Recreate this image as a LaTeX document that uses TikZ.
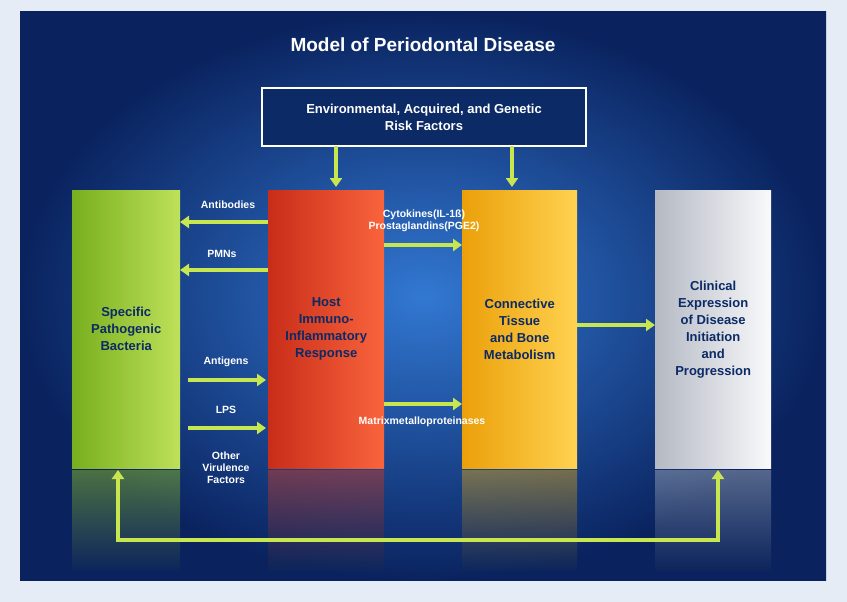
\documentclass[tikz,border=0pt]{standalone}
\usepackage{fontspec}
\setmainfont{Liberation Sans}
\usetikzlibrary{arrows.meta,shadings}
\definecolor{arr}{HTML}{C8E650}
\definecolor{navy}{HTML}{0B2A66}
\begin{document}
\begin{tikzpicture}[x=1pt,y=-1pt,
  conn/.style={draw=arr,line width=3.8pt,-{Triangle[length=9pt,width=12pt]}},
  lbl/.style={text=white,font=\bfseries\fontsize{10.5}{12}\selectfont,align=center,inner sep=0pt},
  big/.style={font=\bfseries\fontsize{13}{17}\selectfont,align=center,inner sep=0pt},
  box/.style={minimum width=116pt,minimum height=278pt,inner sep=0pt,anchor=north west}]
\useasboundingbox (0,0) rectangle (847,602);
\fill[fill={rgb,255:red,230;green,236;blue,245}] (0,0) rectangle (847,602);
\shade[inner color={rgb,255:red,50;green,120;blue,210},outer color={rgb,255:red,10;green,35;blue,95}] (20,12) rectangle (826,580);
\node[text=white,font=\bfseries\fontsize{19}{22}\selectfont] (title) at (423,45) {Model of Periodontal Disease};
\node[draw=white,line width=1.2pt,fill=navy,minimum width=324pt,minimum height=58pt,text=white,big] (risk) at (424,117) {Environmental, Acquired, and Genetic\\Risk Factors};
% reflections
\foreach \x/\w/\c in {72/108/{rgb,255:red,140;green,190;blue,40},268/116/{rgb,255:red,200;green,60;blue,40},462/115/{rgb,255:red,210;green,160;blue,30},655/116/{rgb,255:red,160;green,170;blue,185}}
  \shade[top color=\c,bottom color={rgb,255:red,15;green,40;blue,90},opacity=0.5] (\x,470) rectangle (\x+\w,570);
\node[box,left color={rgb,255:red,120;green,175;blue,30},right color={rgb,255:red,190;green,225;blue,90},text=navy,big,minimum width=108pt] (bact) at (72,190) {Specific\\Pathogenic\\Bacteria};
\node[box,left color={rgb,255:red,200;green,45;blue,25},right color={rgb,255:red,250;green,100;blue,60},text=navy,big] (host) at (268,190) {Host\\Immuno-\\Inflammatory\\Response};
\node[box,left color={rgb,255:red,235;green,160;blue,10},right color={rgb,255:red,255;green,210;blue,80},text=navy,big,minimum width=115pt] (ctb) at (462,190) {Connective\\Tissue\\and Bone\\Metabolism};
\node[box,left color={rgb,255:red,180;green,185;blue,195},right color={rgb,255:red,250;green,250;blue,252},text=navy,big] (clin) at (655,190) {Clinical\\Expression\\of Disease\\Initiation\\and\\Progression};
% risk arrows
\draw[conn] (336,146) -- (336,187);
\draw[conn] (512,146) -- (512,187);
% host -> bacteria
\coordinate (a1) at (268,222); \coordinate (a1e) at (180,222);
\draw[conn] (a1) -- (a1e);
\node[lbl] (l1) at (228,205) {Antibodies};
\coordinate (a2) at (268,270); \coordinate (a2e) at (180,270);
\draw[conn] (a2) -- (a2e);
\node[lbl] (l2) at (222,254) {PMNs};
% bacteria -> host
\coordinate (b1) at (188,380); \coordinate (b1e) at (266,380);
\draw[conn] (b1) -- (b1e);
\node[lbl] (l3) at (226,362) {Antigens};
\coordinate (b2) at (188,428); \coordinate (b2e) at (266,428);
\draw[conn] (b2) -- (b2e);
\node[lbl] (l4) at (226,410) {LPS};
\node[lbl] (l5) at (226,468) {Other\\Virulence\\Factors};
% host -> ctb
\coordinate (c1) at (384,245); \coordinate (c1e) at (462,245);
\draw[conn] (c1) -- (c1e);
\node[lbl] (l6) at (424,221) {Cytokines(IL-1ß)\\Prostaglandins(PGE2)};
\coordinate (c2) at (384,404); \coordinate (c2e) at (462,404);
\draw[conn] (c2) -- (c2e);
\node[lbl] (l7) at (422,422) {Matrixmetalloproteinases};
% ctb -> clin
\draw[conn] (ctb.east |- 0,325) -- (clin.west |- 0,325);
% feedback
\coordinate (f1) at (118,540); \coordinate (f2) at (718,540);
\draw[draw=arr,line width=3.8pt,{Triangle[length=9pt,width=12pt]}-{Triangle[length=9pt,width=12pt]}] (118,470) -- (f1) -- (f2) -- (718,470);
\end{tikzpicture}
\end{document}
